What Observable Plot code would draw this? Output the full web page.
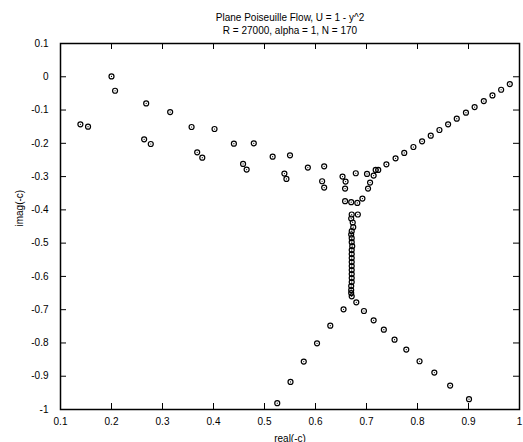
<!DOCTYPE html>
<html><head><meta charset="utf-8">
<script src="https://cdn.jsdelivr.net/npm/d3@7"></script>
<script src="https://cdn.jsdelivr.net/npm/@observablehq/plot@0.6"></script>
<style>html,body{margin:0;padding:0;background:#fff} svg{display:block}</style>
</head><body><div id="chart"></div>
<script>
const titleLines = ["Plane Poiseuille Flow, U = 1 - y^2", "R = 27000, alpha = 1, N = 170"];
const xLabel = "real(-c)";
const yLabel = "imag(-c)";
const xTicks = [0.1, 0.2, 0.3, 0.4, 0.5, 0.6, 0.7, 0.8, 0.9, 1];
const yTicks = [0.1, 0, -0.1, -0.2, -0.3, -0.4, -0.5, -0.6, -0.7, -0.8, -0.9, -1];

// eigenvalues [real(-c), imag(-c)]
const aBranch = [
  [0.200, 0.001], [0.207, -0.042], [0.139, -0.143], [0.154, -0.150], [0.268, -0.080],
  [0.315, -0.106], [0.264, -0.188], [0.277, -0.202], [0.357, -0.151], [0.402, -0.157],
  [0.368, -0.227], [0.378, -0.243], [0.440, -0.201], [0.479, -0.200], [0.458, -0.262],
  [0.465, -0.279], [0.516, -0.240], [0.550, -0.236], [0.539, -0.291], [0.543, -0.307],
  [0.585, -0.273], [0.617, -0.269], [0.613, -0.314], [0.617, -0.333], [0.653, -0.300],
  [0.659, -0.315], [0.658, -0.336], [0.679, -0.290], [0.701, -0.292], [0.714, -0.297],
  [0.707, -0.318], [0.703, -0.336], [0.718, -0.280], [0.723, -0.280], [0.658, -0.374],
  [0.670, -0.377], [0.682, -0.379], [0.692, -0.366]
];
const pBranch = [
  [0.739, -0.263], [0.757, -0.245], [0.774, -0.229], [0.792, -0.211], [0.809, -0.194],
  [0.826, -0.177], [0.843, -0.160], [0.860, -0.143], [0.877, -0.126], [0.895, -0.108],
  [0.912, -0.091], [0.930, -0.073], [0.947, -0.056], [0.964, -0.039], [0.981, -0.022]
];
const sBranch = [
  [0.671, -0.414], [0.683, -0.414], [0.670, -0.426], [0.673, -0.438], [0.674, -0.452],
  [0.671, -0.464], [0.670, -0.474], [0.671, -0.485], [0.671, -0.497], [0.672, -0.509],
  [0.671, -0.521], [0.671, -0.533], [0.671, -0.545], [0.671, -0.557], [0.671, -0.569],
  [0.671, -0.581], [0.671, -0.593], [0.671, -0.605], [0.671, -0.617], [0.670, -0.629],
  [0.670, -0.641], [0.670, -0.650], [0.671, -0.660], [0.680, -0.678], [0.695, -0.704]
];
const lowerLeft = [
  [0.655, -0.699], [0.629, -0.748], [0.603, -0.801], [0.577, -0.856], [0.551, -0.917], [0.525, -0.981]
];
const lowerRight = [
  [0.714, -0.732], [0.734, -0.760], [0.755, -0.790], [0.778, -0.820], [0.804, -0.855],
  [0.833, -0.889], [0.864, -0.928], [0.901, -0.969]
];

const points = [...aBranch, ...pBranch, ...sBranch, ...lowerLeft, ...lowerRight]
  .map(([re, im]) => ({re, im}));

const fmt = d => String(+d.toFixed(1));
const W = 523, H = 442, mt = 43, mb = 33, ml = 60, mr = 4;
const fh = H - mt - mb, fw = W - ml - mr, tk = 6;

const chart = Plot.plot({
  width: W, height: H,
  marginTop: mt, marginBottom: mb, marginLeft: ml, marginRight: mr,
  style: {fontFamily: "'Liberation Sans', Arial, sans-serif", fontSize: "10px", color: "black", background: "white"},
  x: {domain: [0.1, 1]},
  y: {domain: [-1, 0.1]},
  marks: [
    Plot.tickX(xTicks, {x: d => d, insetTop: fh - tk, stroke: "black"}),
    Plot.tickX(xTicks, {x: d => d, insetBottom: fh - tk, stroke: "black"}),
    Plot.tickY(yTicks, {y: d => d, insetRight: fw - tk, stroke: "black"}),
    Plot.tickY(yTicks, {y: d => d, insetLeft: fw - tk, stroke: "black"}),
    Plot.axisX({ticks: xTicks, tickSize: 0, tickPadding: 8, tickFormat: fmt, label: null, fontSize: 10}),
    Plot.axisY({ticks: yTicks, tickSize: 0, tickPadding: 12, tickFormat: fmt, label: null, fontSize: 10}),
    Plot.frame({stroke: "black", strokeWidth: 1.5}),
    Plot.dot(points, {x: "re", y: "im", r: 2.5, stroke: "black", strokeWidth: 1.2, fill: "none"}),
    Plot.dot(points, {x: "re", y: "im", r: 0.6, fill: "black"}),
    Plot.text([titleLines[0]], {frameAnchor: "top", dy: -30, text: d => d, fontSize: 10}),
    Plot.text([titleLines[1]], {frameAnchor: "top", dy: -17, text: d => d, fontSize: 10}),
    Plot.text([xLabel], {frameAnchor: "bottom", dy: 32, text: d => d, fontSize: 10}),
    Plot.text([yLabel], {frameAnchor: "left", dx: -41, rotate: -90, text: d => d, fontSize: 10})
  ]
});
document.getElementById("chart").appendChild(chart);
</script>
</body></html>
